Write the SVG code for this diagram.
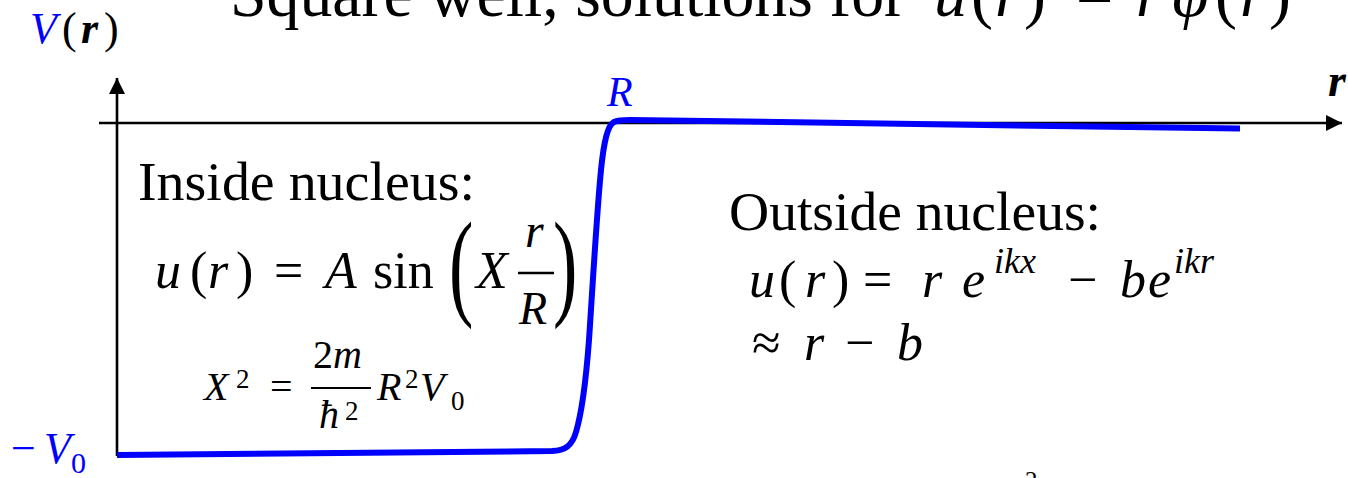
<svg xmlns="http://www.w3.org/2000/svg" width="1348" height="478" viewBox="0 0 1348 478">
<style>
text{font-family:"Liberation Serif","Times New Roman",serif;fill:#000}
.i{font-style:italic}
.b{font-weight:bold}
.blue{fill:#0000ff}
.axis{stroke:#000;stroke-width:2.6;fill:none}
.curve{stroke:#0000ff;stroke-width:6;fill:none;stroke-linecap:butt;stroke-linejoin:round}
.bar{stroke:#000;fill:none}
</style>
<defs>
<marker id="arr" viewBox="0 0 16 16" refX="16" refY="8" markerWidth="16" markerHeight="16" markerUnits="userSpaceOnUse" orient="auto">
<path d="M0,0 L16,8 L0,16 Z" fill="#000"/>
</marker>
</defs>
<rect width="1348" height="478" fill="#fff"/>

<g id="title" font-size="66">
<text x="230" y="16" textLength="676" lengthAdjust="spacingAndGlyphs">Square well, solutions for</text>
<text y="16"><tspan class="i" x="934">u</tspan><tspan x="971">(</tspan><tspan class="i" x="995">r</tspan><tspan x="1024">)</tspan><tspan x="1076">=</tspan><tspan class="i" x="1136">r</tspan><tspan class="i" x="1172">φ</tspan><tspan x="1215">(</tspan><tspan class="i" x="1240">r</tspan><tspan x="1269">)</tspan></text>
</g>

<g id="connectors">
<line class="axis" x1="117" y1="456" x2="117" y2="78" marker-end="url(#arr)"/>
<line class="axis" x1="99" y1="123" x2="1342" y2="123" marker-end="url(#arr)"/>
</g>

<g id="potential">
<path class="curve" d="M117,455 L552,451 C565,450.5 572,446 576,432 C582,412 586,380 589,340 C593,280 597,210 601,170 C604,140 608,125 614,122 C618,120 622,120 630,120 L1240,128.5"/>
</g>

<g id="axis-labels">
<text x="30" y="43" font-size="44"><tspan class="i blue">V</tspan><tspan x="62">(</tspan><tspan class="i b" x="81">r</tspan><tspan x="104">)</tspan></text>
<text class="i blue" x="607" y="106" font-size="42">R</text>
<text class="i b" x="1328" y="96" font-size="46">r</text>
<text class="blue" y="463" font-size="44"><tspan x="11">−</tspan><tspan class="i" x="44">V</tspan><tspan x="71" y="473" font-size="30">0</tspan></text>
</g>

<g id="inside">
<text x="138" y="200" font-size="55" textLength="337" lengthAdjust="spacingAndGlyphs">Inside nucleus:</text>
<text y="288" font-size="52"><tspan class="i" x="155">u</tspan><tspan x="190">(</tspan><tspan class="i" x="208">r</tspan><tspan x="236">)</tspan><tspan x="274">=</tspan><tspan class="i" x="325">A</tspan><tspan x="373">sin</tspan><tspan class="i" x="476">X</tspan></text>
<text transform="translate(449,304) scale(0.62,1)" font-size="118">(</text>
<text transform="translate(553,304) scale(0.62,1)" font-size="118">)</text>
<text class="i" x="525" y="247" font-size="48">r</text>
<line class="bar" x1="518" y1="273" x2="554" y2="273" stroke-width="2.5"/>
<text class="i" x="519" y="324" font-size="46">R</text>
<g font-size="40">
<text class="i" x="204" y="400">X</text>
<text x="236" y="388" font-size="27">2</text>
<text x="270" y="400">=</text>
<text x="313" y="368"><tspan>2</tspan><tspan class="i">m</tspan></text>
<line class="bar" x1="311" y1="388" x2="371" y2="388" stroke-width="2"/>
<text class="i" x="319" y="428">ħ</text>
<text x="345" y="420" font-size="27">2</text>
<text class="i" x="377" y="400">R</text>
<text x="405" y="388" font-size="27">2</text>
<text class="i" x="420" y="400">V</text>
<text x="451" y="410" font-size="27">0</text>
</g>
</g>

<g id="outside">
<text x="729" y="230" font-size="55" textLength="372" lengthAdjust="spacingAndGlyphs">Outside nucleus:</text>
<text y="297" font-size="52"><tspan class="i" x="749">u</tspan><tspan x="779">(</tspan><tspan class="i" x="805">r</tspan><tspan x="832">)</tspan><tspan x="863">=</tspan><tspan class="i" x="922">r</tspan><tspan class="i" x="962">e</tspan><tspan x="1068">−</tspan><tspan class="i" x="1120">b</tspan><tspan class="i" x="1148">e</tspan></text>
<text class="i" y="273" font-size="36"><tspan x="994">ikx</tspan><tspan x="1174">ikr</tspan></text>
<text y="360" font-size="52"><tspan x="752">≈</tspan><tspan class="i" x="804">r</tspan><tspan x="845">−</tspan><tspan class="i" x="897">b</tspan></text>
</g>

<g id="fragment">
<text x="1025" y="489" font-size="25">2</text>
</g>
</svg>
